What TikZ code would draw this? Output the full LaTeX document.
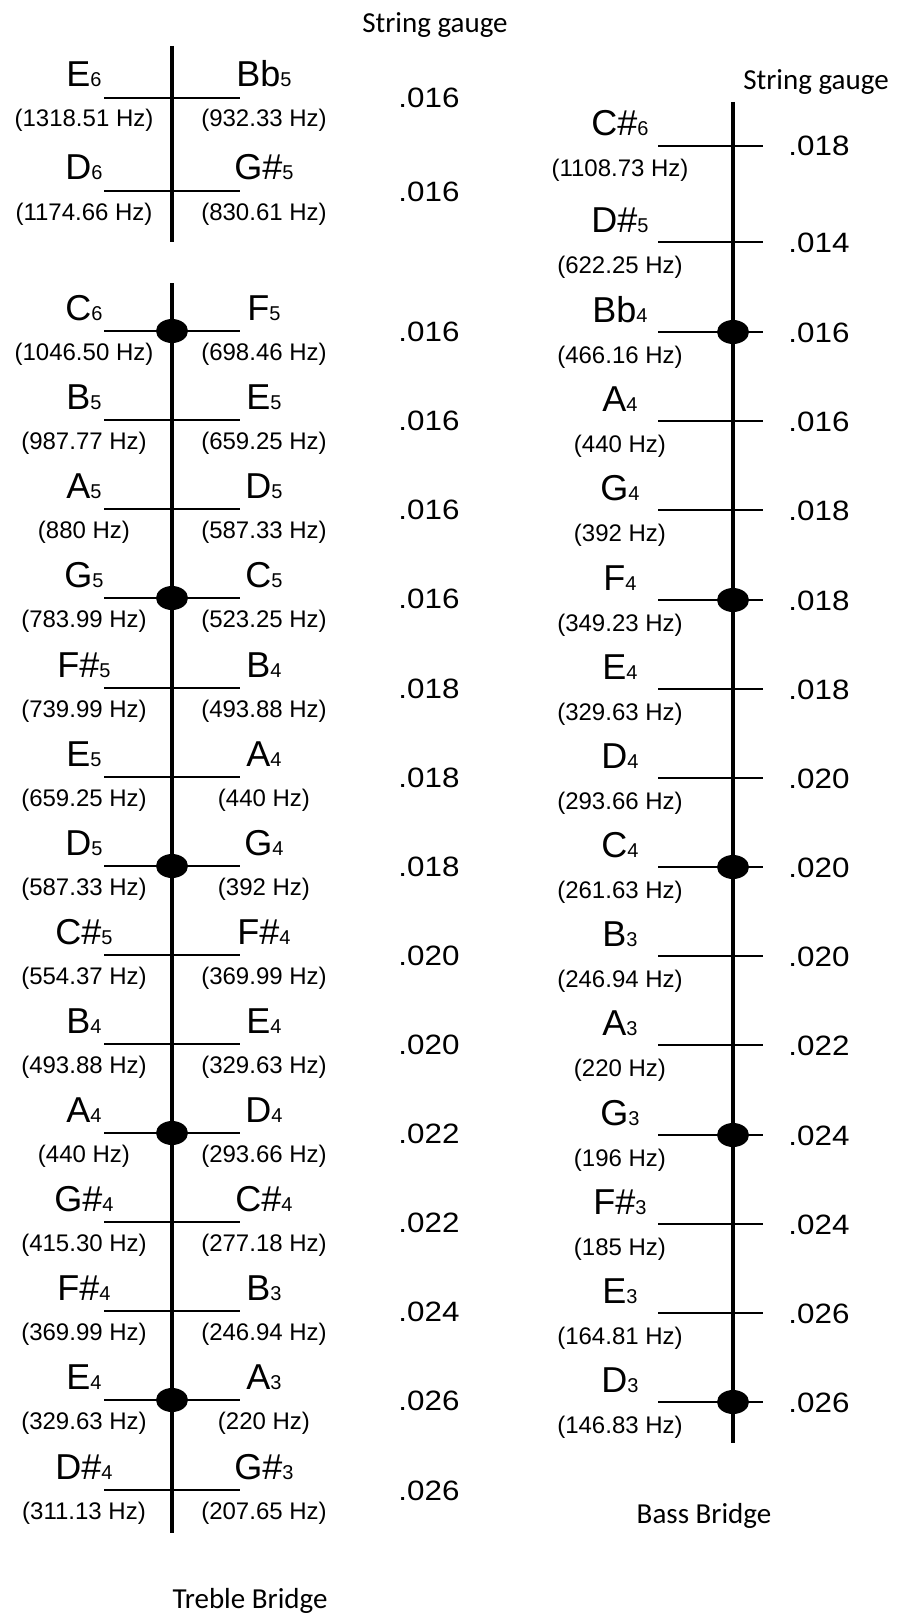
\documentclass[tikz,border=0pt]{standalone}
\usepackage{fontspec}
\setmainfont{Liberation Sans}
\newfontfamily\calibri{Carlito}
\newfontfamily\gaugefont[FakeStretch=1.12]{Liberation Sans}
\usepackage{tikz}
% note name with small octave digit on the baseline
\newcommand*{\nt}[2]{{\fontsize{36}{38}\selectfont #1}{\fontsize{20}{22}\selectfont #2}}

\begin{document}
\begin{tikzpicture}[x=1pt, y=-1pt,
  bridge/.style={line width=3.2pt},
  string/.style={line width=2pt},
  notelabel/.style={anchor=base, inner sep=0pt},
  freqlabel/.style={anchor=base, inner sep=0pt, font=\fontsize{24}{26}\selectfont},
  gaugelabel/.style={anchor=base, inner sep=0pt, font=\gaugefont\fontsize{28}{30}\selectfont},
  titlelabel/.style={anchor=base, inner sep=0pt, font=\calibri\fontsize{29}{31}\selectfont}]
\path[use as bounding box] (0,0) rectangle (906,1616);

% treble bridge
\coordinate (tb1) at (172,46);  \coordinate (tb2) at (172,242);
\coordinate (tb3) at (172,283); \coordinate (tb4) at (172,1533);
\draw[bridge] (tb1) -- (tb2);
\draw[bridge] (tb3) -- (tb4);
\foreach \i/\y/\ln/\lo/\lf/\rn/\ro/\rf/\g in {
  a/98/E/6/1318.51/Bb/5/932.33/.016,
  b/191/D/6/1174.66/G\#/5/830.61/.016,
  0/331/C/6/1046.50/F/5/698.46/.016,
  1/420/B/5/987.77/E/5/659.25/.016,
  2/509/A/5/880/D/5/587.33/.016,
  3/598/G/5/783.99/C/5/523.25/.016,
  4/688/F\#/5/739.99/B/4/493.88/.018,
  5/777/E/5/659.25/A/4/440/.018,
  6/866/D/5/587.33/G/4/392/.018,
  7/955/C\#/5/554.37/F\#/4/369.99/.020,
  8/1044/B/4/493.88/E/4/329.63/.020,
  9/1133/A/4/440/D/4/293.66/.022,
  10/1222/G\#/4/415.30/C\#/4/277.18/.022,
  11/1311/F\#/4/369.99/B/3/246.94/.024,
  12/1400/E/4/329.63/A/3/220/.026,
  13/1490/D\#/4/311.13/G\#/3/207.65/.026}{
  \coordinate (tl\i) at (104,\y);
  \coordinate (tc\i) at (172,\y);
  \coordinate (tr\i) at (240,\y);
  \draw[string] (tl\i) -- (tr\i);
  \node[notelabel] (tln\i) at (84,\y-11) {\nt{\ln}{\lo}};
  \node[freqlabel] (tlf\i) at (84,\y+29) {(\lf\ Hz)};
  \node[notelabel] (trn\i) at (264,\y-11) {\nt{\rn}{\ro}};
  \node[freqlabel] (trf\i) at (264,\y+29) {(\rf\ Hz)};
  \node[gaugelabel] (tg\i) at (429,\y+10) {\g};
}
\foreach \i in {0,3,6,9,12}
  \fill (tc\i) ellipse [x radius=16pt, y radius=12pt];
\node[titlelabel] (tgauge) at (435,33) {String gauge};
\node[titlelabel] (ttitle) at (250,1608) {Treble Bridge};

% bass bridge
\coordinate (bb1) at (733,102); \coordinate (bb2) at (733,1443);
\draw[bridge] (bb1) -- (bb2);
\foreach \i/\y/\n/\o/\f/\g in {
  0/146/C\#/6/1108.73/.018,
  1/242/D\#/5/622.25/.014,
  2/332/Bb/4/466.16/.016,
  3/421/A/4/440/.016,
  4/510/G/4/392/.018,
  5/600/F/4/349.23/.018,
  6/689/E/4/329.63/.018,
  7/778/D/4/293.66/.020,
  8/867/C/4/261.63/.020,
  9/956/B/3/246.94/.020,
  10/1045/A/3/220/.022,
  11/1135/G/3/196/.024,
  12/1224/F\#/3/185/.024,
  13/1313/E/3/164.81/.026,
  14/1402/D/3/146.83/.026}{
  \coordinate (bl\i) at (658,\y);
  \coordinate (bc\i) at (733,\y);
  \coordinate (br\i) at (763,\y);
  \draw[string] (bl\i) -- (br\i);
  \node[notelabel] (bn\i) at (620,\y-10) {\nt{\n}{\o}};
  \node[freqlabel] (bf\i) at (620,\y+31) {(\f\ Hz)};
  \node[gaugelabel] (bg\i) at (819,\y+10) {\g};
}
\foreach \i in {2,5,8,11,14}
  \fill (bc\i) ellipse [x radius=16pt, y radius=12pt];
\node[titlelabel] (bgauge) at (816,90) {String gauge};
\node[titlelabel] (btitle) at (704,1523) {Bass Bridge};
\end{tikzpicture}
\end{document}
